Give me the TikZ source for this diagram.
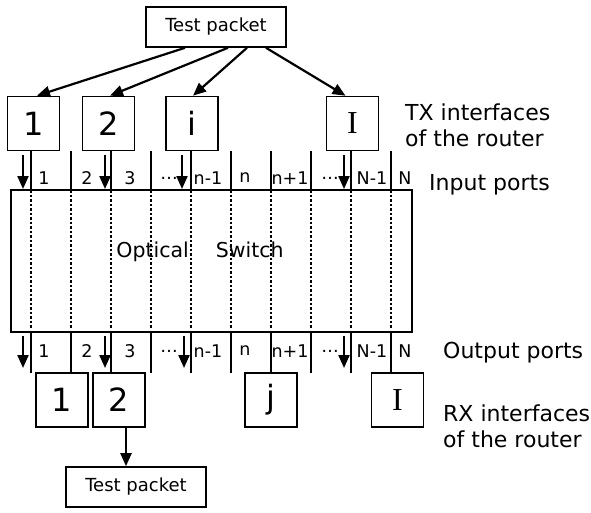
\documentclass[tikz,border=0pt]{standalone}
\usepackage{fontspec}
\setmainfont{DejaVu Sans}
\newfontfamily\romanI{Liberation Serif}
\usetikzlibrary{positioning, arrows.meta}

\begin{document}
\begin{tikzpicture}[
		x=1pt, y=-1pt,
		packet/.style={draw, line width=1.6pt, minimum width=140pt, minimum height=40pt, inner sep=0pt, font=\fontsize{18}{20}\selectfont},
		iface/.style={draw, line width=1.6pt, minimum width=52pt, minimum height=54pt, inner sep=0pt, font=\fontsize{32}{34}\selectfont},
		switchbox/.style={draw, line width=1.6pt, minimum width=401pt, minimum height=142pt, inner sep=0pt},
		port/.style={inner sep=0pt, font=\fontsize{17.5}{19}\selectfont},
		note/.style={inner sep=0pt, anchor=west, align=left, font=\fontsize{22}{26}\selectfont},
		arrow/.style={-{Triangle[length=13pt, width=11pt]}, line width=2.2pt},
		divider/.style={line width=1.6pt},
		lightpath/.style={line width=2.8pt, dash pattern=on 2.7pt off 1.8pt}
	]
	\useasboundingbox (0,0) rectangle (591,512);

	% Sender side
	\node[packet] (tp) at (216,27) {Test packet};
	\node[iface] (tx1) at (33.5,123.5) {1};
	\node[iface] (tx2) at (108.5,123.5) {2};
	\node[iface] (txi) at (192,123.5) {i};
	\node[iface] (txI) at (352.5,123.5) {\romanI I};
	\node[note] (txnote) at (405,125) {TX interfaces\\of the router};

	% Optical switch
	\node[switchbox] (sw) at (211.5,261) {};
	\node[font=\fontsize{20.5}{22}\selectfont, inner sep=0pt] (swlabel) at (200,252) {Optical\hspace{27pt}Switch};
	\node[note] (innote) at (429,185) {Input ports};
	\node[note] (outnote) at (443,353) {Output ports};

	% Port dividers and light paths
	\foreach \x in {31,71,...,391} {
		\draw[divider] (\x,151) -- (\x,190);
		\draw[lightpath] (\x,190) -- (\x,328);
		\draw[divider] (\x,332) -- (\x,373);
	}

	% Port numbers
	\foreach \x/\t [count=\k] in {44/1, 87/2, 130/3, 169/…, 208/n-1, 245/n, 290/n+1, 330/…, 372/N-1, 405/N} {
		\node[port] (ip\k) at (\x,178) {\t};
		\node[port] (op\k) at (\x,351) {\t};
	}

	% Receiver side
	\node[iface] (rx1) at (62,400) {1};
	\node[iface] (rx2) at (119,400) {2};
	\node[iface] (rxj) at (271,400) {j};
	\node[iface] (rxI) at (397.5,400) {\romanI I};
	\node[note] (rxnote) at (443,426.5) {RX interfaces\\of the router};
	\node[packet] (tb) at (136,487) {Test packet};

	% Test packet fan-out
	\draw[arrow] ([xshift=-31pt]tp.south) -- ([xshift=3.5pt]tx1.north);
	\draw[arrow] ([xshift=12pt]tp.south) -- ([xshift=1.5pt]tx2.north);
	\draw[arrow] ([xshift=31pt]tp.south) -- ([xshift=1pt]txi.north);
	\draw[arrow] ([xshift=50pt]tp.south) -- ([xshift=-7pt]txI.north);

	% Port arrows
	\foreach \x in {23,105,182,344}
		\draw[arrow] (\x,155) -- (\x,189);
	\foreach \x in {23,105,184,344}
		\draw[arrow] (\x,336) -- (\x,368);

	% Received test packet
	\draw[arrow] ([xshift=7pt]rx2.south) -- ([xshift=7pt]rx2.south |- tb.north);

\end{tikzpicture}
\end{document}
